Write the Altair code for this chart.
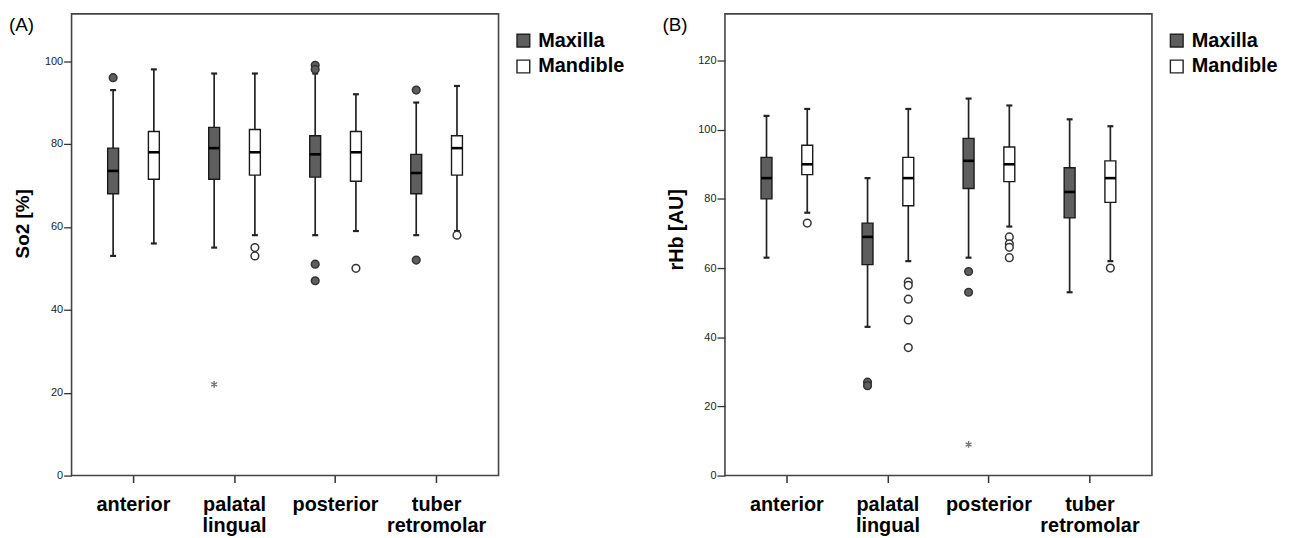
import altair as alt
import pandas as pd

FONT = "Liberation Sans"

categories = ["anterior", "palatal|lingual", "posterior", "tuber|retromolar"]
groups = ["Maxilla", "Mandible"]

# ---- Panel A: So2 [%]  (low whisker, Q1, median, Q3, high whisker) per category
so2_max_low = [53, 55, 58, 58]
so2_max_q1 = [68, 71.5, 72, 68]
so2_max_med = [73.5, 79, 77.5, 73]
so2_max_q3 = [79, 84, 82, 77.5]
so2_max_high = [93, 97, 97, 90]

so2_man_low = [56, 58, 59, 59]
so2_man_q1 = [71.5, 72.5, 71, 72.5]
so2_man_med = [78, 78, 78, 79]
so2_man_q3 = [83, 83.5, 83, 82]
so2_man_high = [98, 97, 92, 94]

so2_out_cat = ["anterior", "palatal|lingual", "palatal|lingual", "posterior", "posterior",
               "posterior", "posterior", "posterior", "tuber|retromolar", "tuber|retromolar",
               "tuber|retromolar"]
so2_out_grp = ["Maxilla", "Mandible", "Mandible", "Maxilla", "Maxilla",
               "Maxilla", "Maxilla", "Mandible", "Maxilla", "Maxilla", "Mandible"]
so2_out_val = [96, 55, 53, 99, 98, 51, 47, 50, 93, 52, 58]

so2_ext_cat = ["palatal|lingual"]
so2_ext_grp = ["Maxilla"]
so2_ext_val = [22]

# ---- Panel B: rHb [AU]
rhb_max_low = [63, 43, 63, 53]
rhb_max_q1 = [80, 61, 83, 74.5]
rhb_max_med = [86, 69, 91, 82]
rhb_max_q3 = [92, 73, 97.5, 89]
rhb_max_high = [104, 86, 109, 103]

rhb_man_low = [76, 62, 72, 62]
rhb_man_q1 = [87, 78, 85, 79]
rhb_man_med = [90, 86, 90, 86]
rhb_man_q3 = [95.5, 92, 95, 91]
rhb_man_high = [106, 106, 107, 101]

rhb_out_cat = ["anterior", "palatal|lingual", "palatal|lingual", "palatal|lingual",
               "palatal|lingual", "palatal|lingual", "palatal|lingual", "palatal|lingual",
               "posterior", "posterior", "posterior", "posterior", "posterior", "posterior",
               "tuber|retromolar"]
rhb_out_grp = ["Mandible", "Maxilla", "Maxilla", "Mandible", "Mandible", "Mandible",
               "Mandible", "Mandible", "Maxilla", "Maxilla", "Mandible", "Mandible",
               "Mandible", "Mandible", "Mandible"]
rhb_out_val = [73, 27, 26, 56, 55, 51, 45, 37, 59, 53, 69, 67, 66, 63, 60]

rhb_ext_cat = ["posterior"]
rhb_ext_grp = ["Maxilla"]
rhb_ext_val = [9]

FILL_RANGE = ["#5e5e5e", "#ffffff"]
STAR = "M0,-1L0,1M-0.87,-0.5L0.87,0.5M-0.87,0.5L0.87,-0.5"


def box_table(mx, mn):
    rows = []
    for grp, stats in (("Maxilla", mx), ("Mandible", mn)):
        low, q1, med, q3, high = stats
        for i, c in enumerate(categories):
            rows.append({"cat": c, "grp": grp, "low": low[i], "q1": q1[i],
                         "med": med[i], "q3": q3[i], "high": high[i]})
    return pd.DataFrame(rows)


def panel(box, out, ext, ytitle, ymax, ticks, letter, title_size, title_y):
    X = alt.X("cat:N", sort=categories,
              scale=alt.Scale(paddingInner=0, paddingOuter=0.113),
              axis=alt.Axis(title=None, labelAngle=0,
                            labelExpr="split(datum.label, '|')",
                            labelFont=FONT, labelFontSize=20, labelFontWeight="bold",
                            labelColor="#000", labelLineHeight=21, labelPadding=12,
                            tickSize=7, tickColor="#333", tickWidth=1.5, domain=False))
    XO = alt.XOffset("grp:N", sort=groups,
                     scale=alt.Scale(paddingInner=0, paddingOuter=0.24))
    yscale = alt.Scale(domain=[0, ymax], nice=False, zero=True)
    yaxis = alt.Axis(values=ticks, title=ytitle, titleFont=FONT, titleFontSize=title_size,
                     titleFontWeight="bold", titleColor="#000", titleX=-49, titleY=title_y,
                     titleBaseline="middle", titleAngle=270,
                     labelFont=FONT, labelFontSize=11, labelColor="#222", labelPadding=1,
                     tickSize=8, tickColor="#333", tickWidth=1.3, domain=False, grid=False)
    fill_scale = alt.Scale(domain=groups, range=FILL_RANGE)

    base = alt.Chart(box)
    whisk = base.mark_rule(color="#222", strokeWidth=1.7).encode(
        x=X, xOffset=XO, y=alt.Y("low:Q", scale=yscale, axis=yaxis), y2="high:Q")
    cap_lo = base.mark_tick(size=6, thickness=2.2, color="#222", opacity=1).encode(
        x=X, xOffset=XO, y="low:Q")
    cap_hi = base.mark_tick(size=6, thickness=2.2, color="#222", opacity=1).encode(
        x=X, xOffset=XO, y="high:Q")
    boxes = base.mark_bar(size=11, stroke="#1a1a1a", strokeWidth=1.4).encode(
        x=X, xOffset=XO, y="q1:Q", y2="q3:Q",
        fill=alt.Fill("grp:N", scale=fill_scale,
                      legend=alt.Legend(title=None, orient="none", legendX=445, legendY=17,
                                        symbolType="square", symbolSize=165,
                                        symbolStrokeColor="#222", symbolStrokeWidth=1.4,
                                        labelFont=FONT, labelFontSize=20,
                                        labelFontWeight="bold", labelColor="#000",
                                        rowPadding=6, labelOffset=5)))
    med = base.mark_tick(size=11, thickness=2.6, color="#000", opacity=1).encode(
        x=X, xOffset=XO, y="med:Q")
    outl = alt.Chart(out).mark_point(filled=True, size=60, stroke="#333", strokeWidth=1.5,
                                     opacity=1).encode(
        x=X, xOffset=XO, y="value:Q",
        fill=alt.Fill("grp:N", scale=fill_scale, legend=None))
    star = alt.Chart(ext).mark_point(shape=STAR, size=45, stroke="#777", strokeWidth=1.4,
                                     filled=False, opacity=1).encode(
        x=X, xOffset=XO, y="value:Q")
    lab = alt.Chart(pd.DataFrame({"t": [letter]})).mark_text(
        align="left", baseline="middle", font=FONT, fontSize=19, color="#000").encode(
        x=alt.value(-63), y=alt.value(11), text="t:N")
    return alt.layer(whisk, cap_lo, cap_hi, boxes, med, outl, star, lab).properties(
        width=430, height=465)


so2_box = box_table((so2_max_low, so2_max_q1, so2_max_med, so2_max_q3, so2_max_high),
                    (so2_man_low, so2_man_q1, so2_man_med, so2_man_q3, so2_man_high))
so2_out = pd.DataFrame({"cat": so2_out_cat, "grp": so2_out_grp, "value": so2_out_val})
so2_ext = pd.DataFrame({"cat": so2_ext_cat, "grp": so2_ext_grp, "value": so2_ext_val})

rhb_box = box_table((rhb_max_low, rhb_max_q1, rhb_max_med, rhb_max_q3, rhb_max_high),
                    (rhb_man_low, rhb_man_q1, rhb_man_med, rhb_man_q3, rhb_man_high))
rhb_out = pd.DataFrame({"cat": rhb_out_cat, "grp": rhb_out_grp, "value": rhb_out_val})
rhb_ext = pd.DataFrame({"cat": rhb_ext_cat, "grp": rhb_ext_grp, "value": rhb_ext_val})

left = panel(so2_box, so2_out, so2_ext, "So2 [%]", 111.4, [0, 20, 40, 60, 80, 100],
             "(A)", 19, 211)
right = panel(rhb_box, rhb_out, rhb_ext, "rHb [AU]", 133.5, [0, 20, 40, 60, 80, 100, 120],
              "(B)", 20, 217)

chart = alt.hconcat(left, right, spacing=36).resolve_scale(
    y="independent", fill="independent").properties(
    background="white",
    padding={"left": 0, "top": 3, "right": 5, "bottom": 2}).configure_view(
    stroke="#444", strokeWidth=1.6)

chart.save("out.html", embed_options={"renderer": "svg", "actions": False})
